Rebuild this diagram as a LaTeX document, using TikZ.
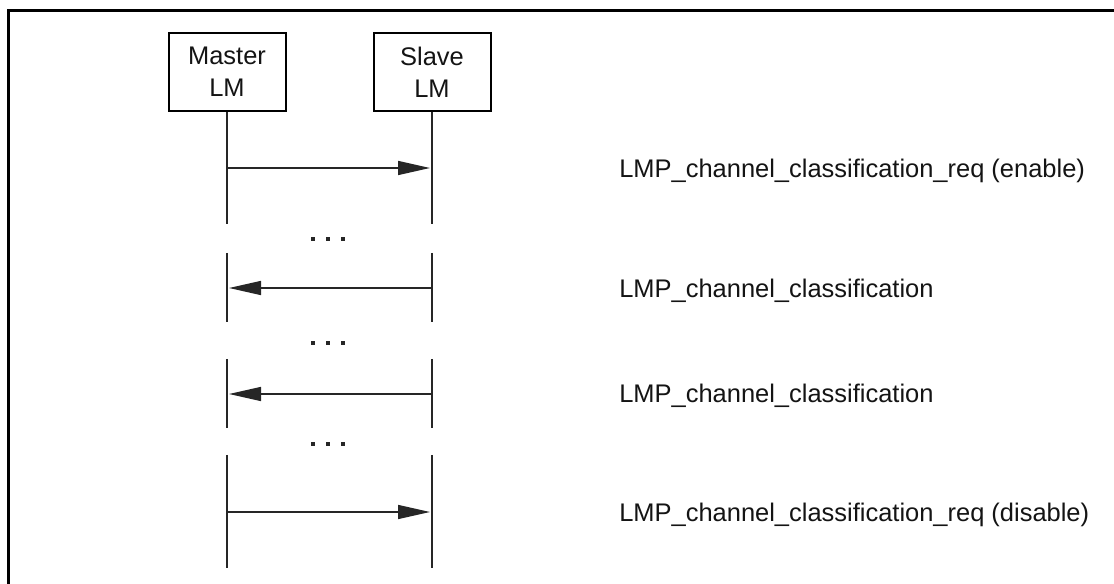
\documentclass[tikz,border=0pt]{standalone}
\usepackage{fontspec}
\setmainfont{Liberation Sans}
\usetikzlibrary{arrows.meta}
\begin{document}
\begin{tikzpicture}[x=0.75pt,y=-0.75pt,
  every node/.style={font=\fontsize{19.1pt}{24pt}\selectfont, text=black!92},
  lmbox/.style={draw, line width=1.5pt, minimum width=87.75pt, minimum height=58.5pt, inner sep=0pt, align=center},
  life/.style={line width=1.1pt, black!85},
  msg/.style={line width=1.1pt, black!85, -{Triangle[length=24pt,width=10.5pt]}},
  msglabel/.style={anchor=base west, inner sep=0pt},
  dotmark/.style={fill=black!85}
]
\useasboundingbox (0,0) rectangle (1114,584);
% frame
\draw[line width=2.3pt] (8.5,590) -- (8.5,10.5) -- (1120,10.5);
% boxes
\node[lmbox] (master) at (227,72) {Master\\LM};
\node[lmbox] (slave) at (432,72) {Slave\\LM};
% lifeline coordinates
\coordinate (m1a) at (master.south);
\coordinate (s1a) at (slave.south);
\coordinate (m1b) at (227,224); \coordinate (s1b) at (432,224);
\coordinate (m2a) at (227,253); \coordinate (s2a) at (432,253);
\coordinate (m2b) at (227,322); \coordinate (s2b) at (432,322);
\coordinate (m3a) at (227,359); \coordinate (s3a) at (432,359);
\coordinate (m3b) at (227,428); \coordinate (s3b) at (432,428);
\coordinate (m4a) at (227,455); \coordinate (s4a) at (432,455);
\coordinate (m4b) at (227,568); \coordinate (s4b) at (432,568);
\foreach \a/\b in {m1a/m1b,s1a/s1b,m2a/m2b,s2a/s2b,m3a/m3b,s3a/s3b,m4a/m4b,s4a/s4b}
  \draw[life] (\a) -- (\b);
% message endpoints
\coordinate (m1) at (227,168); \coordinate (s1) at (430,168);
\coordinate (s2) at (432,288); \coordinate (m2) at (229,288);
\coordinate (s3) at (432,394); \coordinate (m3) at (229,394);
\coordinate (m4) at (227,512); \coordinate (s4) at (430,512);
\draw[msg] (m1) -- (s1);
\draw[msg] (s2) -- (m2);
\draw[msg] (s3) -- (m3);
\draw[msg] (m4) -- (s4);
% labels
\node[msglabel] (l1) at (619,178) {LMP\_channel\_classification\_req (enable)};
\node[msglabel] (l2) at (619,298) {LMP\_channel\_classification};
\node[msglabel] (l3) at (619,403) {LMP\_channel\_classification};
\node[msglabel] (l4) at (619,522) {LMP\_channel\_classification\_req (disable)};
% ellipsis dots
\foreach \y in {239,343,444}
  \foreach \x in {313,328,343}
    \fill[dotmark] (\x-1.8,\y-1.8) rectangle (\x+1.8,\y+1.8);
\end{tikzpicture}
\end{document}
